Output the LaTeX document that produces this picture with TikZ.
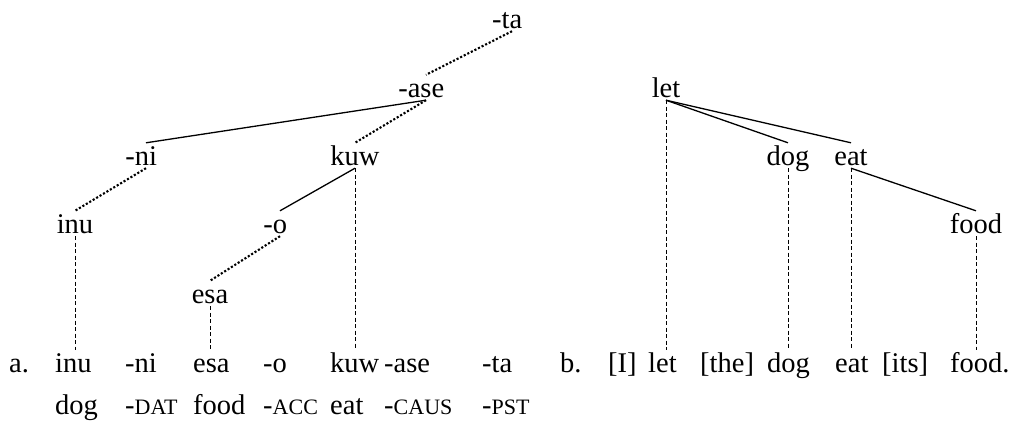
\documentclass[tikz,border=0pt]{standalone}
\usepackage{fontspec}
\setmainfont{Liberation Serif}
\usetikzlibrary{positioning}

\newcommand{\glsc}[1]{{\fontsize{22pt}{22pt}\selectfont #1}}

\begin{document}
\begin{tikzpicture}[x=1pt,y=-1pt,
    lex/.style={inner xsep=0pt,inner ysep=2pt,text height=20pt,text depth=1pt,
      anchor=base,font=\fontsize{28.5pt}{30pt}\selectfont},
    word/.style={lex,anchor=base west},
    dep/.style={line width=1.3pt},
    morph/.style={line width=2.1pt,dash pattern=on 2.1pt off 1.9pt},
    proj/.style={line width=0.7pt,dash pattern=on 4pt off 2.5pt}]

                \useasboundingbox (0,0) rectangle (1012,434);

                % tree a
                \node[lex] (ta) at (512,28) {\llap{-}ta};
                \node[lex] (ase) at (426,97) {\llap{-}ase};
                \node[lex] (ni) at (146,165) {\llap{-}ni};
                \node[lex] (kuw) at (355,165) {kuw};
                \node[lex] (inu) at (75,233) {inu};
                \node[lex] (o) at (280,233) {\llap{-}o};
                \node[lex] (esa) at (210,303) {esa};

                % tree b
                \node[lex] (let) at (666,97) {let};
                \node[lex] (dog) at (788,165) {dog};
                \node[lex] (eat) at (851,165) {eat};
                \node[lex] (food) at (976,233) {food};

                % sentence a
                \node[word] (la) at (9,372) {a.};
                \node[word] (rinu) at (55,372) {inu};
                \node[word] (rni) at (125,372) {-ni};
                \node[word] (resa) at (193,372) {esa};
                \node[word] (ro) at (263,372) {-o};
                \node[word] (rkuw) at (330,372) {kuw};
                \node[word] (rase) at (384,372) {-ase};
                \node[word] (rta) at (482,372) {-ta};

                % gloss a
                \node[word] (gdog) at (55,414) {dog};
                \node[word] (gdat) at (125,414) {-\glsc{DAT}};
                \node[word] (gfood) at (193,414) {food};
                \node[word] (gacc) at (263,414) {-\glsc{ACC}};
                \node[word] (geat) at (330,414) {eat};
                \node[word] (gcaus) at (384,414) {-\glsc{CAUS}};
                \node[word] (gpst) at (482,414) {-\glsc{PST}};

                % sentence b
                \node[word] (lb) at (560,372) {b.};
                \node[word] (ri) at (608,372) {[I]};
                \node[word] (rlet) at (648,372) {let};
                \node[word] (rthe) at (700,372) {[the]};
                \node[word] (rdog) at (767,372) {dog};
                \node[word] (reat) at (835,372) {eat};
                \node[word] (rits) at (882,372) {[its]};
                \node[word] (rfood) at (950,372) {food.};

                \path[dep] (ase.south) edge (ni.north)
                           (kuw.south) edge (o.north)
                           (let.south) edge (dog.north)
                                       edge (eat.north)
                           (eat.south) edge (food.north);

                \path[morph] (ta.south) edge (ase.north)
                             (ase.south) edge (kuw.north)
                             (ni.south) edge (inu.north)
                             (o.south) edge (esa.north);

                \foreach \t/\r in {inu/rinu,esa/resa,kuw/rkuw,let/rlet,dog/rdog,eat/reat,food/rfood}
                  \draw[proj] (\t.south) -- (\t.south |- \r.north);

            \end{tikzpicture}
\end{document}
